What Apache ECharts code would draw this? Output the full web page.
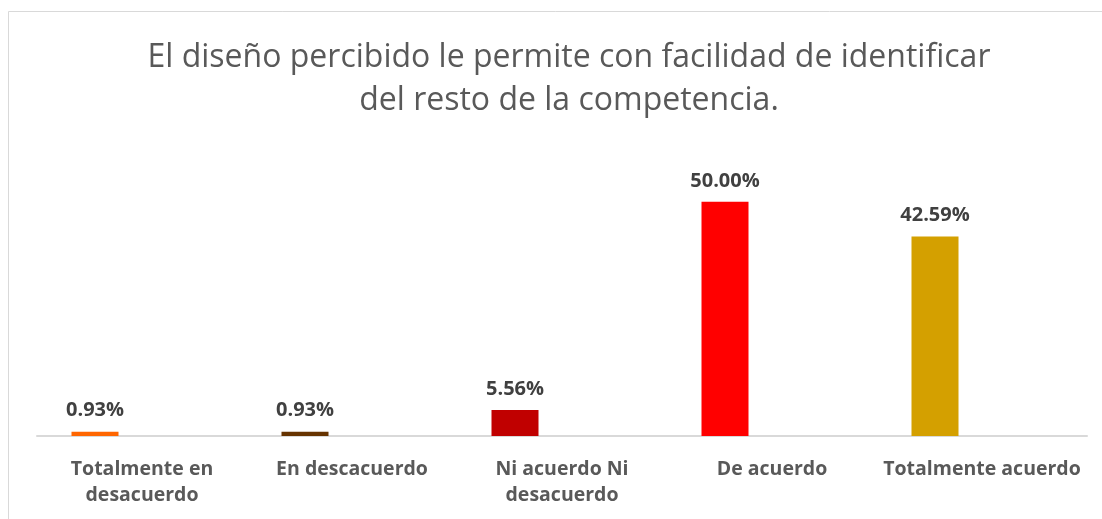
<!DOCTYPE html>
<html>
<head>
<meta charset="utf-8">
<script src="https://cdn.jsdelivr.net/npm/echarts@6/dist/echarts.min.js"></script>
<style>
  html, body { margin: 0; padding: 0; background: #fff; }
  #main { width: 1102px; height: 519px; }
</style>
</head>
<body>
<div id="main"></div>
<script>
const categories = ['Totalmente en\ndesacuerdo', 'En descacuerdo', 'Ni acuerdo Ni\ndesacuerdo', 'De acuerdo', 'Totalmente acuerdo']
const percentValues = [0.93, 0.93, 5.56, 50.00, 42.59]
const barColors = ['#ff6600', '#663300', '#c00000', '#ff0000', '#d4a000']

const chart = echarts.init(document.getElementById('main'))

const option = {
  backgroundColor: '#fff',
  animation: false,
  title: {
    text: 'El diseño percibido le permite con facilidad de identificar\ndel resto de la competencia.',
    left: 564,
    textAlign: 'center',
    top: 31,
    textStyle: {
      fontFamily: 'Open Sans',
      fontSize: 32,
      fontWeight: 'normal',
      color: '#595959',
      lineHeight: 43
    }
  },
  graphic: [
    {
      type: 'rect',
      shape: { x: 8.5, y: 11.5, width: 1200, height: 600 },
      style: { fill: 'none', stroke: '#d9d9d9', lineWidth: 1 },
      silent: true
    }
  ],
  grid: {
    left: 37,
    right: 15,
    top: 155,
    bottom: 83
  },
  xAxis: {
    type: 'category',
    data: categories,
    axisLine: { lineStyle: { color: '#d9d9d9', width: 2 } },
    axisTick: { show: false },
    axisLabel: {
      interval: 0,
      margin: 20,
      fontFamily: 'Open Sans',
      fontSize: 19.5,
      fontWeight: 'bold',
      color: '#595959',
      lineHeight: 26
    }
  },
  yAxis: {
    type: 'value',
    min: 0,
    max: 60,
    show: false
  },
  series: [
    {
      type: 'bar',
      barWidth: 47,
      barGap: '100%',
      data: percentValues.map((v, i) => ({ value: v, itemStyle: { color: barColors[i] } })),
      label: {
        show: true,
        position: 'top',
        distance: 11,
        formatter: p => p.value.toFixed(2) + '%',
        fontFamily: 'Open Sans',
        fontSize: 20,
        fontWeight: 'bold',
        color: '#404040'
      }
    },
    {
      type: 'bar',
      barWidth: 47,
      data: percentValues.map(() => null)
    }
  ]
}

chart.setOption(option)
</script>
</body>
</html>
